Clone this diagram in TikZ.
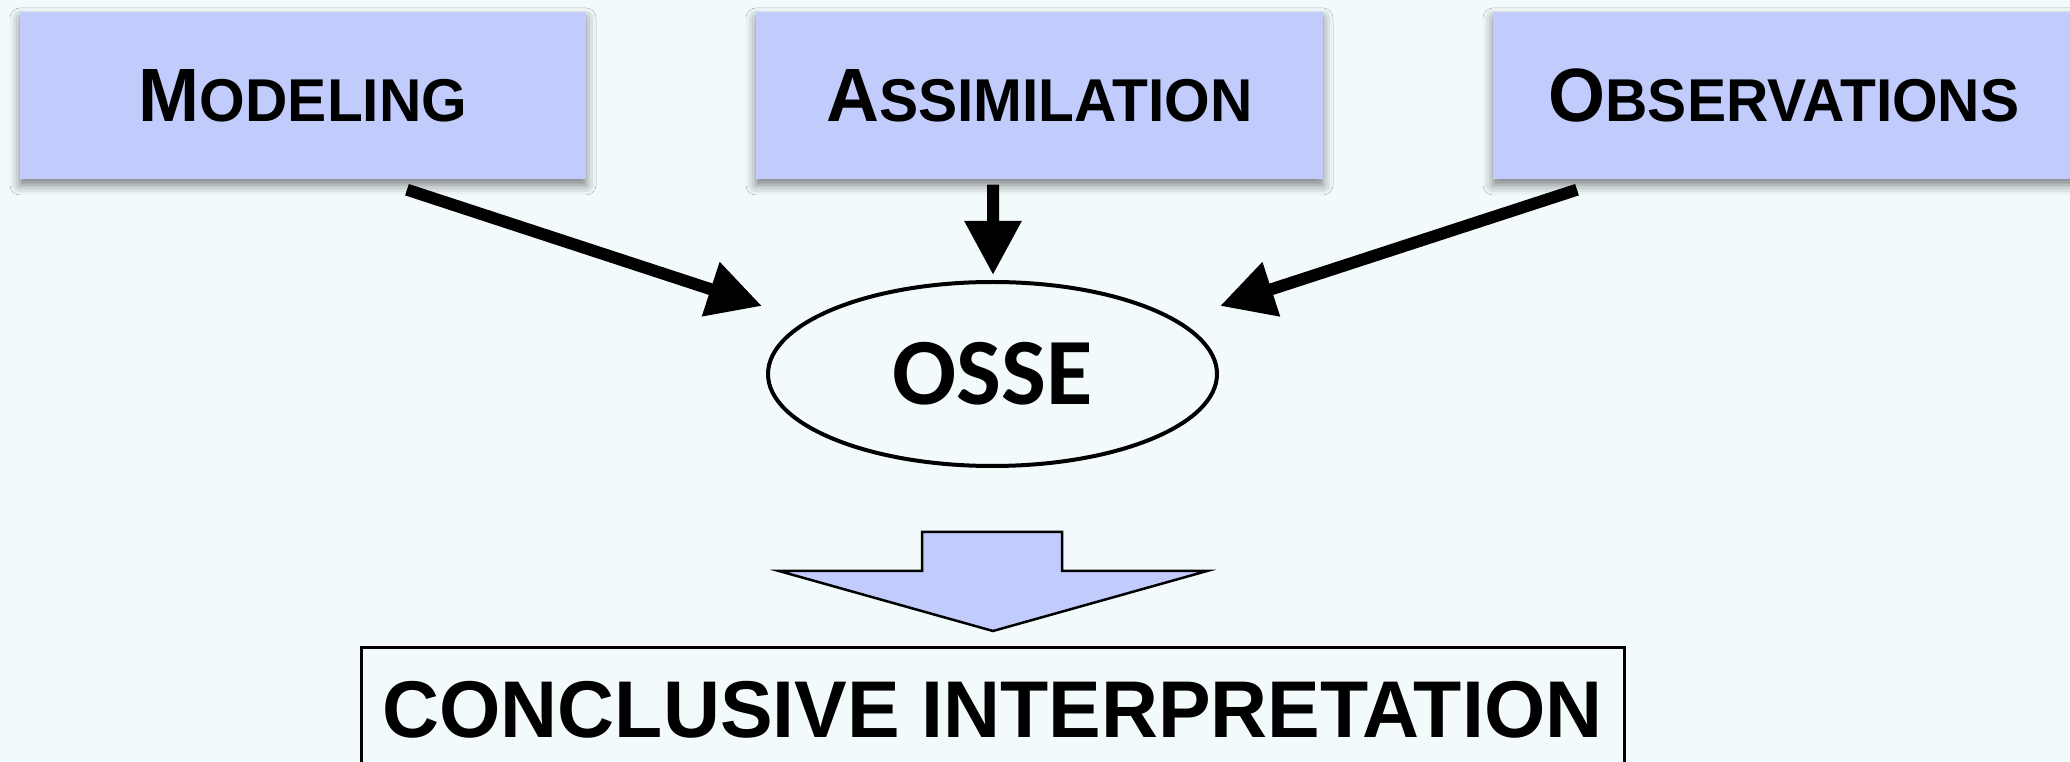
\documentclass[tikz,border=0pt]{standalone}
\usepackage{fontspec}
\setmainfont{Liberation Sans}
\newfontfamily\osfont{Carlito}
\newfontfamily\headfont[FakeStretch=0.97]{Liberation Sans}
\newfontfamily\narrowfont[FakeStretch=0.98]{Liberation Sans}
\usetikzlibrary{arrows.meta,shapes.geometric,shadows.blur}

\definecolor{bgcol}{RGB}{242,250,252}
\definecolor{boxblue}{RGB}{193,204,252}

% first letter big, the rest as small capitals
\newcommand{\capword}[2]{{\fontsize{21.5}{24}\selectfont #1}{\fontsize{17.2}{20}\selectfont #2}}

\tikzset{
  topbox/.style={fill=boxblue, minimum height=16.7mm, inner sep=0pt,
    font=\headfont\bfseries,
    blur shadow={shadow xshift=0mm, shadow yshift=-0.6mm,
      shadow blur radius=1mm, shadow opacity=50}},
  flow/.style={line width=1.2mm, -{Triangle[length=5.4mm,width=5.4mm]}},
}

\begin{document}
\begin{tikzpicture}[x=0.1mm, y=-0.1mm]

    % Background
    \fill[bgcol] (0,0) rectangle (2070,762);
    \useasboundingbox (0,0) rectangle (2070,762);
    \clip (0,0) rectangle (2070,762);

    % The three inputs
    \node[topbox, minimum width=56.6mm] (modeling) at (303,95.5) {\capword{M}{ODELING}};
    \node[topbox, minimum width=56.7mm] (assim) at (1039.5,95.5) {\capword{A}{SSIMILATION}};
    \node[topbox, minimum width=58.2mm] (observ) at (1784,95.5) {\capword{O}{BSERVATIONS}};

    % The OSSE in the middle
    \node[draw, ellipse, line width=0.4mm, fill=bgcol, minimum width=44.9mm,
      minimum height=18.4mm, inner sep=0pt,
      font=\osfont\bfseries\fontsize{27}{30}\selectfont] (osse) at (992.5,374) {OSSE};

    % End points of the arrows
    \coordinate (m-out) at ([shift={(104,10)}]modeling.south);
    \coordinate (m-in)  at ([shift={(-230.5,-68)}]osse.center);
    \coordinate (a-out) at ([shift={(-46.5,5)}]assim.south);
    \coordinate (a-in)  at ([shift={(0.5,-99)}]osse.center);
    \coordinate (o-out) at ([shift={(-207,10)}]observ.south);
    \coordinate (o-in)  at ([shift={(227.5,-68)}]osse.center);

    % Arrows into the OSSE
    \draw[flow] (m-out) -- (m-in);
    \draw[flow] (a-out) -- (a-in);
    \draw[flow] (o-out) -- (o-in);

    % Big block arrow down
    \draw[fill=boxblue, line width=0.25mm, line join=miter]
      (922,532) -- (1062,532) -- (1062,571) -- (1207,571) -- (993,631)
      -- (779,571) -- (922,571) -- cycle;

    % Result
    \node[draw, line width=0.3mm, minimum width=126.3mm, minimum height=12.4mm,
      inner sep=0pt, font=\narrowfont\bfseries\fontsize{22.9}{26}\selectfont]
      (concl) at (992.5,710) {CONCLUSIVE INTERPRETATION};

\end{tikzpicture}
\end{document}
